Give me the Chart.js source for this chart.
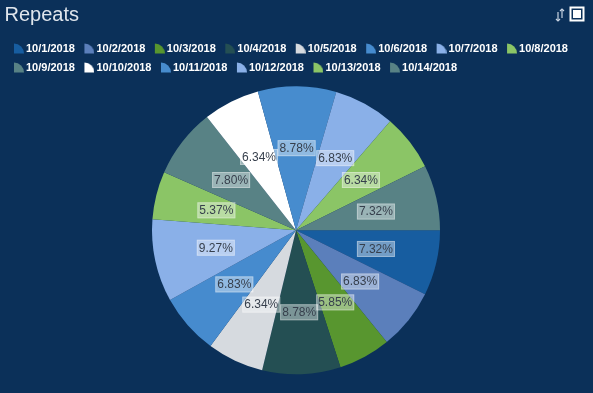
<!DOCTYPE html>
<html>
<head>
<meta charset="utf-8">
<script src="https://cdn.jsdelivr.net/npm/chart.js@4"></script>
<style>
  html, body { margin: 0; padding: 0; background: #0b3059; }
  #wrap { position: relative; width: 593px; height: 393px; }
  #icons { position: absolute; right: 8px; top: 6px; }
</style>
</head>
<body>
<div id="wrap">
  <canvas id="chart" width="593" height="393"></canvas>
  <svg id="icons" width="30" height="18" viewBox="0 0 30 18">
    <!-- sort arrows -->
    <g stroke="#c9d4e2" stroke-width="1.2" fill="none">
      <line x1="3" y1="6" x2="3" y2="15" />
      <polyline points="1,13 3,15 5,13" />
      <line x1="7" y1="3" x2="7" y2="12" />
      <polyline points="5,5 7,3 9,5" />
    </g>
    <rect x="15.5" y="1.5" width="13" height="13" fill="#0b3059" stroke="#ffffff" stroke-width="2" />
    <rect x="18" y="4" width="8" height="8" fill="#ffffff" />
  </svg>
</div>
<script>
const dates = ['10/1/2018', '10/2/2018', '10/3/2018', '10/4/2018', '10/5/2018', '10/6/2018', '10/7/2018',
  '10/8/2018', '10/9/2018', '10/10/2018', '10/11/2018', '10/12/2018', '10/13/2018', '10/14/2018'];
const repeats = [15, 14, 12, 18, 13, 14, 19, 11, 16, 13, 18, 14, 13, 15];
const sliceColors = ['#175da0', '#5b7fbb', '#58962f', '#244f53', '#d6dadf', '#468bce', '#8ab0e8',
  '#8bc566', '#588285', '#ffffff', '#478cce', '#8ab0e8', '#8bc566', '#588285'];

// small quarter-pie icon used in the legend
function wedgeIcon(color) {
  const c = document.createElement('canvas');
  c.width = 15;
  c.height = 11;
  const g = c.getContext('2d');
  g.fillStyle = color;
  g.beginPath();
  g.moveTo(5, 10.5);
  g.lineTo(5, 0.5);
  g.arc(5, 10.5, 10, -Math.PI / 2, 0);
  g.closePath();
  g.fill();
  return c;
}
const icons = sliceColors.map(wedgeIcon);

// percent labels with a translucent box
const percentLabels = {
  id: 'percentLabels',
  afterDatasetsDraw(chart) {
    const ctx = chart.ctx;
    const meta = chart.getDatasetMeta(0);
    const total = repeats.reduce((a, b) => a + b, 0);
    ctx.save();
    ctx.font = '12px "Liberation Sans", Arial, sans-serif';
    ctx.textAlign = 'center';
    ctx.textBaseline = 'middle';
    meta.data.forEach((arc, i) => {
      const mid = (arc.startAngle + arc.endAngle) / 2;
      const r = arc.outerRadius * 0.57;
      const x = arc.x + Math.cos(mid) * r;
      const y = arc.y + Math.sin(mid) * r;
      const txt = (repeats[i] / total * 100).toFixed(2) + '%';
      const w = ctx.measureText(txt).width + 4;
      const h = 16;
      ctx.fillStyle = 'rgba(255,255,255,0.4)';
      ctx.fillRect(x - w / 2, y - h / 2, w, h);
      ctx.strokeStyle = 'rgba(255,255,255,0.3)';
      ctx.lineWidth = 1;
      ctx.strokeRect(x - w / 2 + 0.5, y - h / 2 + 0.5, w - 1, h - 1);
      ctx.fillStyle = '#363f4c';
      ctx.fillText(txt, x, y + 0.5);
    });
    ctx.restore();
  }
};

new Chart(document.getElementById('chart'), {
  type: 'pie',
  data: {
    labels: dates,
    datasets: [{
      data: repeats,
      backgroundColor: sliceColors,
      borderWidth: 0
    }]
  },
  options: {
    responsive: false,
    animation: false,
    rotation: 90,
    radius: 144,
    layout: { padding: { left: 4.5, right: 5.5, top: 0, bottom: 15.5 } },
    plugins: {
      title: {
        display: true,
        text: 'Repeats',
        align: 'start',
        color: '#dfe5ec',
        font: { family: '"Liberation Sans", Arial, sans-serif', size: 20, weight: 'normal' },
        padding: { top: 3, bottom: 8 }
      },
      legend: {
        position: 'top',
        align: 'start',
        labels: {
          color: '#ffffff',
          font: { family: '"Liberation Sans", Arial, sans-serif', size: 11, weight: 'bold', lineHeight: 1 },
          usePointStyle: true,
          boxWidth: 8,
          boxHeight: 8,
          padding: 8,
          generateLabels(chart) {
            return dates.map((d, i) => ({
              text: d,
              fillStyle: sliceColors[i],
              strokeStyle: sliceColors[i],
              lineWidth: 0,
              pointStyle: icons[i],
              fontColor: '#ffffff',
              hidden: false,
              index: i
            }));
          }
        }
      },
      tooltip: { enabled: false }
    }
  },
  plugins: [percentLabels]
});
</script>
</body>
</html>
